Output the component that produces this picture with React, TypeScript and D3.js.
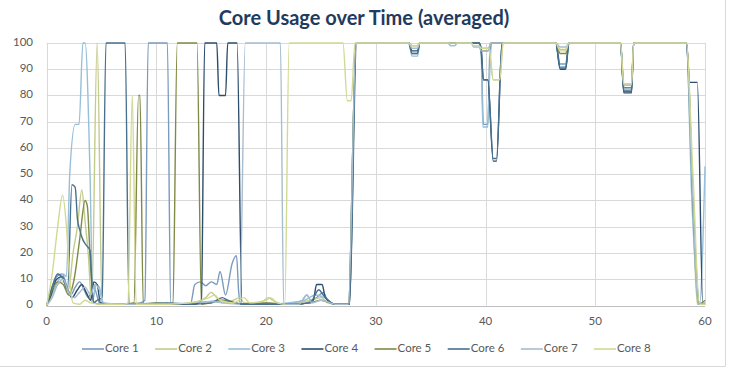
import React from "react";
import * as d3 from "d3";

// time (s) vs usage (%), one list per core
const core1: [number, number][] = [
  [0, 0], [0.4, 6], [0.9, 11], [1.4, 12], [1.8, 8], [2.2, 4], [2.6, 7], [3.0, 9], [3.4, 6], [3.8, 3], [4.2, 8], [4.5, 5], [4.8, 1],
  [5.5, 0.5], [6.5, 0.5], [7.5, 0.5], [8.5, 1], [8.95, 2], [9.25, 100], [11.0, 100], [11.3, 1], [12, 0.5], [13.1, 0.5],
  [13.5, 8], [14, 9], [14.5, 7.5], [15, 9], [15.5, 8], [15.8, 13], [16.3, 4], [16.9, 16], [17.3, 19], [17.5, 5], [17.7, 0.5],
  [19, 0.5], [20, 1], [21, 0.5], [22.5, 1], [23.3, 2], [23.7, 4], [24.1, 2], [24.6, 3], [25.2, 5], [25.6, 2], [26.3, 0.5],
  [27.5, 0.5], [28.2, 100], [33, 100], [33.3, 96], [33.8, 96], [34, 100], [39.4, 100], [39.6, 97], [39.8, 69], [40.2, 69],
  [40.4, 97], [40.6, 100], [46.4, 100], [46.8, 92], [47.3, 92], [47.6, 100], [52.3, 100], [52.6, 82], [53.3, 82],
  [53.5, 100], [58.3, 100], [58.7, 60], [59.4, 0.5], [60, 1],
];
const core2: [number, number][] = [
  [0, 0], [0.5, 4], [1.0, 8], [1.5, 9], [2.0, 6], [2.4, 20], [2.8, 30], [3.2, 44], [3.5, 32], [3.8, 19], [4.1, 1], [4.6, 100],
  [5.05, 1], [5.5, 0.5], [7, 0.5], [8, 1], [9, 0.5], [10.5, 1], [12, 0.5], [13.5, 1], [14.5, 3], [15, 5], [15.5, 3], [16, 1],
  [17, 2], [17.6, 3], [18, 1], [19.5, 1], [20.2, 3], [20.6, 2], [21.5, 0.5], [23, 1], [24, 2], [25, 3], [25.6, 1], [26.3, 0.5],
  [27.5, 0.5], [28.2, 100], [33, 100], [33.3, 99], [33.8, 99], [34, 100], [39.4, 100], [39.6, 98], [40.3, 98], [40.7, 86],
  [41.3, 86], [41.6, 100], [46.4, 100], [46.8, 97.5], [47.3, 97.5], [47.6, 100], [52.3, 100], [52.6, 84], [53.3, 84],
  [53.5, 100], [58.3, 100], [58.8, 50], [59.3, 0.5], [60, 0.5],
];
const core3: [number, number][] = [
  [0, 0], [0.5, 5], [1.0, 9], [1.5, 12], [1.8, 11], [2.1, 50], [2.6, 69], [2.95, 69], [3.3, 100], [3.5, 100], [3.95, 50],
  [4.2, 2], [4.5, 8], [4.8, 7], [5.1, 1], [6, 0.5], [8, 0.5], [10, 1], [12, 0.5], [14, 1], [16, 2], [17, 1], [18, 0.5],
  [20, 0.5], [22, 1], [23.5, 2], [24.5, 4], [25.3, 3], [26.3, 0.5], [27.5, 0.5], [28.2, 100], [33, 100], [33.3, 95],
  [33.8, 95], [34, 100], [36.6, 100], [36.8, 99], [37.2, 99], [37.4, 100], [39.4, 100], [39.6, 97], [39.75, 68], [40.2, 68],
  [40.35, 86], [40.6, 100], [46.4, 100], [46.8, 91], [47.3, 91], [47.6, 100], [52.3, 100], [52.6, 82.5], [53.3, 82.5],
  [53.5, 100], [58.3, 100], [58.8, 40], [59.5, 0.5], [60, 53],
];
const core4: [number, number][] = [
  [0, 0], [0.4, 4], [0.9, 10], [1.4, 11], [1.9, 6], [2.3, 3], [2.8, 6], [3.2, 8], [3.6, 5], [4.0, 2], [4.3, 9], [4.6, 8],
  [4.9, 1], [6, 0.5], [8, 0.5], [10, 0.5], [12, 0.5], [13.5, 0.5], [14.1, 2], [14.4, 100], [15.5, 100], [15.7, 80],
  [16.3, 80], [16.5, 100], [17.35, 100], [17.8, 0.5], [19, 0.5], [21, 0.5], [23, 0.5], [24.3, 2], [24.6, 8], [25.1, 8],
  [25.4, 3], [26.3, 0.5], [27.6, 0.5], [28.2, 100], [33, 100], [33.3, 97], [33.8, 97], [34, 100], [39.4, 100], [39.6, 97],
  [39.8, 86], [40.2, 86], [40.7, 55], [41.0, 55], [41.5, 100], [46.4, 100], [46.8, 90], [47.3, 90], [47.6, 100],
  [52.3, 100], [52.6, 81], [53.3, 81], [53.5, 100], [58.3, 100], [58.6, 85], [59.3, 85], [59.8, 0.5], [60, 0.5],
];
const core5: [number, number][] = [
  [0, 0], [0.5, 6], [1.0, 9], [1.5, 8], [2.0, 4], [2.5, 10], [3.0, 25], [3.5, 40], [3.7, 38], [4.0, 15], [4.3, 1], [5, 0.5],
  [7, 0.5], [7.95, 1], [8.37, 80], [8.5, 80], [8.8, 0.5], [10, 1], [11, 0.5], [11.5, 1], [11.9, 100], [13.7, 100],
  [14.1, 0.5], [15, 1], [16, 2], [17, 1], [18.5, 0.5], [20, 1], [22, 0.5], [24, 1], [25, 2], [26.3, 0.5], [27.5, 0.5],
  [28.2, 100], [33, 100], [33.3, 99], [33.8, 99], [34, 100], [39.4, 100], [39.6, 97], [40.2, 97], [40.5, 100], [46.4, 100],
  [46.8, 96], [47.3, 96], [47.6, 100], [52.3, 100], [52.6, 83], [53.3, 83], [53.5, 100], [58.3, 100], [58.9, 40],
  [59.4, 0.5], [60, 2],
];
const core6: [number, number][] = [
  [0, 0], [0.5, 7], [1.0, 12], [1.5, 10], [1.9, 6], [2.3, 46], [2.6, 45], [2.8, 33], [3.0, 29], [3.3, 25], [3.6, 23],
  [3.95, 21], [4.1, 10], [4.25, 1], [4.6, 2], [5.05, 3], [5.4, 100], [7.15, 100], [7.5, 0.5], [9, 0.5], [11, 1], [13, 0.5],
  [15, 1], [16, 3], [16.5, 2], [18, 0.5], [20, 0.5], [22, 0.5], [24, 1], [24.8, 6], [25.2, 4], [26.3, 0.5], [27.6, 0.5],
  [28.25, 100], [33, 100], [33.3, 96], [33.8, 96], [34, 100], [39.4, 100], [39.6, 98], [39.8, 86], [40.2, 86], [40.7, 56],
  [41.0, 56], [41.5, 100], [46.4, 100], [46.8, 90.5], [47.3, 90.5], [47.6, 100], [52.3, 100], [52.6, 81.5], [53.3, 81.5],
  [53.5, 100], [58.3, 100], [59.0, 30], [59.5, 0.5], [60, 0.5],
];
const core7: [number, number][] = [
  [0, 0], [0.5, 3], [1.0, 8], [1.5, 10], [2.0, 5], [2.5, 3], [3.0, 5], [3.5, 7], [4.0, 4], [4.4, 8], [4.8, 6], [5.2, 1],
  [7, 0.5], [9, 0.5], [11, 0.5], [13, 1], [15, 1.5], [16, 1], [17.6, 0.5], [18.1, 100], [21.3, 100], [21.6, 0.5], [23, 0.5],
  [23.7, 4], [24.2, 1], [25, 2], [26.3, 0.5], [27.5, 0.5], [28.2, 100], [33, 100], [33.3, 98], [33.8, 98], [34, 100],
  [36.6, 100], [36.8, 99], [37.2, 99], [37.4, 100], [38.7, 100], [38.9, 98.5], [39.4, 98.5], [39.6, 97], [40.2, 97],
  [40.5, 100], [46.4, 100], [46.8, 98.5], [47.3, 98.5], [47.6, 100], [52.3, 100], [52.6, 84], [53.3, 84], [53.5, 100],
  [58.3, 100], [58.8, 50], [59.4, 0.5], [60, 0.5],
];
const core8: [number, number][] = [
  [0, 0], [0.5, 12], [1.0, 30], [1.45, 42], [1.8, 30], [2.1, 10], [2.4, 1], [3, 0.5], [3.5, 2], [4, 1], [5, 0.5], [7, 0.5],
  [7.4, 1], [7.8, 80], [8.15, 0.5], [9, 0.5], [11, 0.5], [13, 1], [14.8, 3], [15.3, 4], [15.8, 2], [17, 1], [18, 3],
  [18.5, 1], [20, 2], [20.4, 3], [21, 1], [21.7, 0.5], [22.1, 100], [27.0, 100], [27.4, 78], [27.75, 78], [28.1, 100],
  [33, 100], [33.3, 99], [33.8, 99], [34, 100], [38.7, 100], [38.9, 99], [39.4, 99], [39.6, 98], [40.3, 98], [40.7, 86],
  [41.3, 86], [41.6, 100], [46.4, 100], [46.8, 97], [47.3, 97], [47.6, 100], [52.3, 100], [52.6, 84.5], [53.3, 84.5],
  [53.5, 100], [58.3, 100], [58.9, 50], [59.5, 0.5], [60, 0.5],
];

const seriesNames = ["Core 1", "Core 2", "Core 3", "Core 4", "Core 5", "Core 6", "Core 7", "Core 8"];
const seriesData = [core1, core2, core3, core4, core5, core6, core7, core8];
const colors = ["#7b9bbd", "#c3cb8c", "#97bfd9", "#2d4d6c", "#7f8a45", "#47708e", "#a7bdd0", "#d2d993"];

const W = 735;
const H = 373;
const font = "Lato, 'Open Sans', sans-serif";

export default function App() {
  const x = d3.scaleLinear().domain([0, 60]).range([46.7, 705]);
  const y = d3.scaleLinear().domain([0, 100]).range([305.5, 43]);

  const line = d3
    .line<[number, number]>()
    .x((d) => x(d[0]))
    .y((d) => y(d[1]))
    .curve(d3.curveMonotoneX);

  const xTicks = x.ticks(6);
  const yTicks = y.ticks(10);

  const legendX = d3.scaleLinear().domain([0, 7]).range([82, 594]);

  return (
    <svg width={W} height={H} style={{ position: "absolute", left: 0, top: 0, background: "#fff" }}>
      {/* chart frame (only right/bottom edges are in view) */}
      <line x1={725.5} y1={0} x2={725.5} y2={366.5} stroke="#d9d9d9" />
      <line x1={0} y1={366.5} x2={725.5} y2={366.5} stroke="#d9d9d9" />

      <text x={364} y={20} textAnchor="middle" dominantBaseline="middle" fontFamily={font}
        fontWeight="bold" fontSize={20} fill="#1f3b5e">
        Core Usage over Time (averaged)
      </text>

      {/* grid */}
      {yTicks.map((t) => (
        <line key={"gy" + t} x1={x(0)} x2={x(60)} y1={Math.round(y(t)) + 0.5} y2={Math.round(y(t)) + 0.5}
          stroke={t === 0 ? "#bfbfbf" : "#d9d9d9"} strokeWidth={1} />
      ))}
      {xTicks.map((t) => (
        <line key={"gx" + t} x1={Math.round(x(t)) + 0.5} x2={Math.round(x(t)) + 0.5} y1={y(100)} y2={y(0)}
          stroke="#d9d9d9" strokeWidth={1} />
      ))}

      {yTicks.map((t) => (
        <text key={"ly" + t} x={33} y={y(t)} textAnchor="end" dominantBaseline="middle"
          fontFamily={font} fontSize={11.5} fill="#595959">{t}</text>
      ))}
      {xTicks.map((t) => (
        <text key={"lx" + t} x={x(t)} y={322} textAnchor="middle" dominantBaseline="middle"
          fontFamily={font} fontSize={11.5} fill="#595959">{t}</text>
      ))}

      {seriesData.map((s, i) => (
        <path key={seriesNames[i]} d={line(s) || ""} fill="none" stroke={colors[i]} strokeWidth={1.4}
          strokeLinejoin="round" />
      ))}

      {seriesNames.map((n, i) => (
        <g key={"lg" + n} transform={`translate(${legendX(i)},349)`}>
          <line x1={0} x2={22} y1={0} y2={0} stroke={colors[i]} strokeWidth={1.6} />
          <text x={23} y={0} dominantBaseline="middle" fontFamily={font} fontSize={11.5} fill="#595959">{n}</text>
        </g>
      ))}
    </svg>
  );
}
